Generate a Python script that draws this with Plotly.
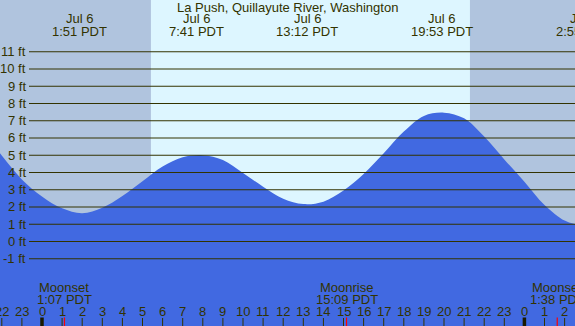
import plotly.graph_objects as go

# ---- data ----
title_text = "La Push, Quillayute River, Washington"

# water level (ft) at each hour (hours from Jul 6 00:00 PDT)
tide_hours = [-2.09, -1, 0, 1, 2, 3, 4, 5, 6, 7, 8, 9, 10, 11, 12, 13, 14, 15,
              16, 17, 18, 19, 20, 21, 22, 23, 24, 25, 26, 26.52]
tide_ft = [5.11, 3.6, 2.61, 1.92, 1.64, 1.96, 2.64, 3.49, 4.34, 4.88, 5.0, 4.72,
           3.97, 3.18, 2.48, 2.17, 2.31, 2.95, 3.91, 5.11, 6.37, 7.28, 7.47, 7.14,
           6.08, 4.76, 3.47, 2.12, 1.21, 1.01]

extreme_hours = [1.85, 7.683, 13.2, 19.883, 26.917]
extreme_dates = ["Jul 6", "Jul 6", "Jul 6", "Jul 6", "Jul 7"]
extreme_times = ["1:51 PDT", "7:41 PDT", "13:12 PDT", "19:53 PDT", "2:55 PDT"]

sunrise_hour = 5.42
sunset_hour = 21.29

moon_hours = [1.117, 15.15, 25.633]
moon_names = ["Moonset", "Moonrise", "Moonset"]
moon_times = ["1:07 PDT", "15:09 PDT", "1:38 PDT"]

ft_levels = list(range(-1, 12))
ft_labels = [f"{v} ft" for v in ft_levels]

tick_hours = list(range(-2, 27))
tick_labels = [str(h % 24) for h in tick_hours]
midnight_hours = [0, 24]

# ---- styling ----
W, H = 575, 326
X_RANGE = [-2.0896, 26.517]
Y_RANGE = [-4.9, 14.0]
NIGHT = "#b0c4de"
DAY = "#ddf6ff"
WATER = "#4169e1"
INK = "#333300"
FONT = "Liberation Sans, Arial, sans-serif"


def py(pix):
    return 1 - pix / H


def xpaper(hour):
    # position on the x axis expressed in paper units (lets labels sit past the edge)
    return (hour - X_RANGE[0]) / (X_RANGE[1] - X_RANGE[0])


fig = go.Figure()

# base for the water fill
fig.add_trace(go.Scatter(x=[X_RANGE[0] - 1, X_RANGE[1] + 1], y=[-10, -10],
                         mode="lines", line=dict(width=0), hoverinfo="skip",
                         showlegend=False))
fig.add_trace(go.Scatter(x=tide_hours, y=tide_ft, mode="lines",
                         line=dict(shape="spline", width=0, color=WATER),
                         fill="tonexty", fillcolor=WATER, showlegend=False,
                         hoverinfo="skip"))

shapes = []
# daylight band
shapes.append(dict(type="rect", xref="x", yref="paper", x0=sunrise_hour, x1=sunset_hour,
                   y0=0, y1=1, fillcolor=DAY, line=dict(width=0), layer="below"))
# horizontal ft lines
for v in ft_levels:
    shapes.append(dict(type="line", xref="paper", yref="y", x0=29 / W, x1=1, y0=v, y1=v,
                       line=dict(color=INK, width=1.2), layer="above"))
# hour ticks
for h in tick_hours:
    shapes.append(dict(type="line", xref="x", yref="paper", x0=h, x1=h,
                       y0=py(326), y1=py(318), line=dict(color=INK, width=1), layer="above"))
for h in midnight_hours:
    shapes.append(dict(type="line", xref="x", yref="paper", x0=h, x1=h,
                       y0=py(326), y1=py(317.5), line=dict(color="#1a1a00", width=3.5),
                       layer="above"))
for h in moon_hours:
    shapes.append(dict(type="line", xref="x", yref="paper", x0=h, x1=h,
                       y0=py(326), y1=py(317.5), line=dict(color="#ff0000", width=1.2),
                       layer="above"))

ann = []
fsz = 13
ann.append(dict(text=title_text, xref="paper", yref="paper", x=0.5, y=py(8),
                xanchor="center", yanchor="middle", showarrow=False,
                font=dict(family=FONT, size=fsz, color=INK)))
for h, d, t in zip(extreme_hours, extreme_dates, extreme_times):
    ann.append(dict(text=d, xref="paper", yref="paper", x=xpaper(h), y=py(18.5),
                    xanchor="center", yanchor="middle", showarrow=False,
                    font=dict(family=FONT, size=fsz, color=INK)))
    ann.append(dict(text=t, xref="paper", yref="paper", x=xpaper(h), y=py(31),
                    xanchor="center", yanchor="middle", showarrow=False,
                    font=dict(family=FONT, size=fsz, color=INK)))
for v, lab in zip(ft_levels, ft_labels):
    ann.append(dict(text=lab, xref="paper", yref="y", x=28 / W, y=v, xanchor="right",
                    yanchor="middle", showarrow=False,
                    font=dict(family=FONT, size=fsz, color=INK)))
for h, lab in zip(tick_hours, tick_labels):
    ann.append(dict(text=lab, xref="x", yref="paper", x=h, y=py(311.5), xanchor="center",
                    yanchor="middle", showarrow=False,
                    font=dict(family=FONT, size=fsz, color=INK)))
for h, n, t in zip(moon_hours, moon_names, moon_times):
    ann.append(dict(text=n, xref="x", yref="paper", x=h, y=py(287), xanchor="center",
                    yanchor="middle", showarrow=False,
                    font=dict(family=FONT, size=fsz, color=INK)))
    ann.append(dict(text=t, xref="x", yref="paper", x=h, y=py(299.5), xanchor="center",
                    yanchor="middle", showarrow=False,
                    font=dict(family=FONT, size=fsz, color=INK)))

fig.update_layout(
    width=W, height=H, margin=dict(l=0, r=0, t=0, b=0),
    paper_bgcolor=NIGHT, plot_bgcolor=NIGHT,
    xaxis=dict(range=X_RANGE, visible=False, fixedrange=True),
    yaxis=dict(range=Y_RANGE, visible=False, fixedrange=True),
    shapes=shapes, annotations=ann, showlegend=False,
)

fig.write_html("out.html", config={"displayModeBar": False},
               post_script="document.body.style.margin='0';document.body.style.overflow='hidden';")
